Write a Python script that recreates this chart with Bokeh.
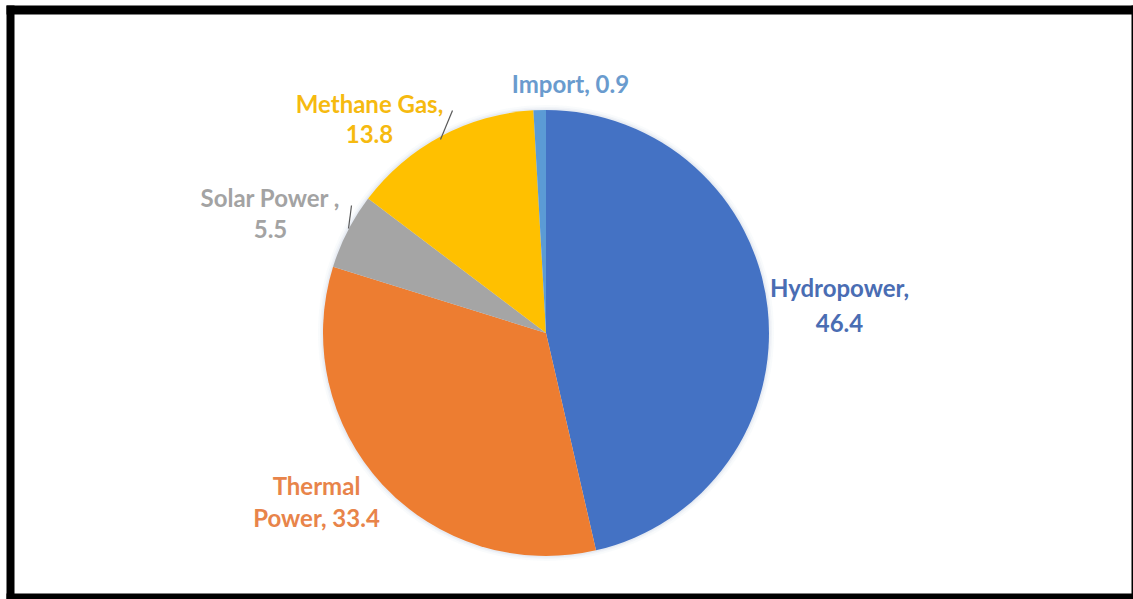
import numpy as np
from bokeh.plotting import figure
from bokeh.models import Range1d, ColumnDataSource
from bokeh.core.properties import value
from bokeh.embed import file_html
from bokeh.resources import INLINE

# Electricity generation mix (%)
sources = ["Hydropower", "Thermal Power", "Solar Power", "Methane Gas", "Import"]
shares = [46.4, 33.4, 5.5, 13.8, 0.9]
slice_colors = ["#4472C4", "#ED7D31", "#A5A5A5", "#FFC000", "#5B9BD5"]
label_colors = ["#4A6DB3", "#E8844A", "#A3A3A3", "#F6BA10", "#6A9BCE"]

W, H = 1133, 599
CX, CY, R = 545.5, H - 332.5, 223.0

p = figure(width=W, height=H, output_backend="svg", toolbar_location=None,
           x_range=Range1d(0, W), y_range=Range1d(0, H),
           x_axis_location=None, y_axis_location=None, min_border=0)
p.grid.visible = False
p.outline_line_color = None
p.background_fill_color = "white"
p.border_fill_color = "white"

# wedges go clockwise from 12 o'clock
vals = np.array(shares, dtype=float)
frac = vals / vals.sum()
cum = np.concatenate([[0.0], np.cumsum(frac)])
start = np.pi / 2 - 2 * np.pi * cum[:-1]
end = np.pi / 2 - 2 * np.pi * cum[1:]

# soft halo behind the pie
for dr, a in [(5, 0.10), (3, 0.15), (1.5, 0.25)]:
    p.circle(x=[CX], y=[CY], radius=R + dr, fill_color="#c9d3e3",
             fill_alpha=a, line_color=None)

src = ColumnDataSource(dict(start=start, end=end, color=slice_colors))
p.wedge(x=CX, y=CY, radius=R, start_angle="start", end_angle="end",
        direction="clock", fill_color="color", line_color=None, source=src)

# data labels: (lines, centre x, baseline-middle y in page pixels)
def lbl(name, v):
    return f"{name}, {v}"

label_lines = [
    (["Hydropower,", f"{shares[0]}"], 839, [287, 322]),
    (["Thermal", f"Power, {shares[1]}"], 316, [485, 517]),
    (["Solar Power ,", f"{shares[2]}"], 270, [197, 228]),
    (["Methane Gas,", f"{shares[3]}"], 369, [103, 133]),
    ([lbl(sources[4], shares[4])], 570, [83]),
]
tx, ty, tt, tc = [], [], [], []
for (lines, x, ys), col in zip(label_lines, label_colors):
    for t, y in zip(lines, ys):
        tx.append(x)
        ty.append(H - y)
        tt.append(t)
        tc.append(col)
p.text(x=tx, y=ty, text=tt, text_color=tc, text_align="center",
       text_baseline="middle", text_font=value("Lato"),
       text_font_style="bold", text_font_size="24px")

# leader lines for the two small outside labels
p.segment(x0=[452, 351], y0=[H - 110, H - 205], x1=[440, 348], y1=[H - 139, H - 228],
          line_color="#595959", line_width=1.2)

# black frame around the chart
p.quad(left=[6, 6, 1131, 6], right=[14, 1133, 1133, 1133],
       bottom=[0, H - 14, 0, 0], top=[H - 5, H - 5, H - 5, 6],
       fill_color="black", line_color=None)

open("out.html", "w").write(file_html(p, INLINE))
